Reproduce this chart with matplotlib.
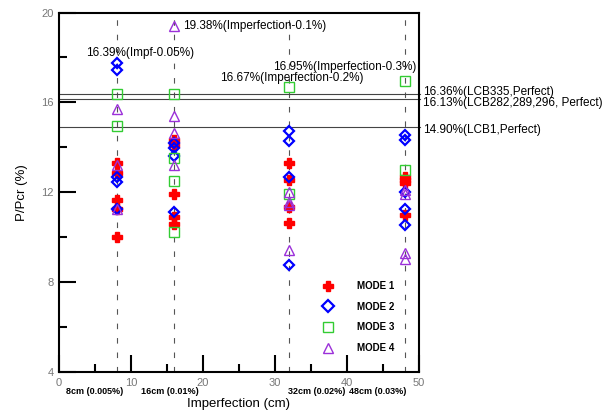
import matplotlib
matplotlib.use("Agg")
import matplotlib.pyplot as plt
from matplotlib.ticker import MultipleLocator

#
# Les données : imperfections (cm) et valeurs P/Pcr (%) de chaque mode, colonne par colonne.
#
imperfections = [8, 16, 32, 48]
etiquettes_x = ["8cm (0.005%)", "16cm (0.01%)", "32cm (0.02%)", "48cm (0.03%)"]
position_etiquettes = [5.0, 15.4, 35.8, 44.3]

mode1 = [[13.3, 12.85, 11.64, 11.25, 10.0],
         [14.31, 14.09, 11.9, 10.88, 10.6],
         [13.32, 12.53, 11.35, 10.64],
         [12.68, 12.53, 12.39, 10.98]]
mode2 = [[17.76, 17.42, 12.68, 12.46, 11.24],
         [14.18, 13.96, 13.6, 11.12],
         [14.72, 14.27, 12.68, 8.76],
         [14.53, 14.31, 12.01, 11.24, 10.53]]
mode3 = [[16.36, 14.93],
         [16.36, 13.52, 12.5, 10.21],
         [16.67, 11.94],
         [16.95, 13.0]]
mode4 = [[15.69, 13.2, 11.24],
         [19.38, 15.38, 14.62, 13.2],
         [12.01, 11.57, 11.42, 9.45],
         [12.09, 11.91, 9.28, 9.05]]

#
# Les valeurs parfaites (lignes horizontales) et leurs étiquettes.
#
parfaits = [16.36, 16.13, 14.90]
etiquettes_parfaits = ["16.36%(LCB335,Perfect)", "16.13%(LCB282,289,296, Perfect)", "14.90%(LCB1,Perfect)"]
y_etiquettes_parfaits = [16.47, 15.96, 14.76]

#
# Les annotations des valeurs maximales.
#
annotations = ["16.39%(Impf-0.05%)", "19.38%(Imperfection-0.1%)",
               "16.95%(Imperfection-0.3%)", "16.67%(Imperfection-0.2%)"]
pos_annotations = [(3.75, 18.22), (17.2, 19.42), (29.7, 17.57), (22.4, 17.07)]

plt.rcParams["font.family"] = ["Liberation Sans", "DejaVu Sans"]

fig = plt.figure(figsize=(6.13, 4.13), dpi=100)
ax = fig.add_axes([0.0962, 0.0993, 0.5873, 0.8704])

# Lignes verticales pointillées à chaque imperfection
for x in imperfections:
    ax.axvline(x, color="#555555", lw=0.8, dashes=(5, 8), zorder=1)

# Lignes horizontales des cas parfaits
for v, txt, yt in zip(parfaits, etiquettes_parfaits, y_etiquettes_parfaits):
    ax.plot([0, 50.2], [v, v], color="#444444", lw=0.8, clip_on=False, zorder=1)
    ax.text(50.55, yt, txt, fontsize=8.5, va="center", ha="left", clip_on=False)

#
# Les points de chaque mode.
#
styles = [
    (mode1, dict(marker="P", color="#ff0000", ms=6.5, ls="none", mec="#ff0000"), "MODE 1"),
    (mode2, dict(marker="D", color="#0000ff", ms=4.8, ls="none", mfc="none", mew=1.6), "MODE 2"),
    (mode3, dict(marker="s", color="#33cc33", ms=6.5, ls="none", mfc="none", mew=1.0), "MODE 3"),
    (mode4, dict(marker="^", color="#9b30d9", ms=6.5, ls="none", mfc="none", mew=1.0), "MODE 4"),
]
for donnees, style, nom in styles:
    xs = []
    ys = []
    for x, col in zip(imperfections, donnees):
        xs += [x] * len(col)
        ys += col
    ax.plot(xs, ys, label=nom, zorder=3, **style)

for txt, (x, y) in zip(annotations, pos_annotations):
    ax.text(x, y, txt, fontsize=8.5, va="center", ha="left")

# Étiquettes personnalisées sous l'axe des x
for txt, x in zip(etiquettes_x, position_etiquettes):
    ax.text(x, -0.055, txt, transform=ax.get_xaxis_transform(), fontsize=6.5,
            fontweight="bold", ha="center", va="center")

ax.set_xlim(0, 50)
ax.set_ylim(4, 20)
ax.xaxis.set_major_locator(MultipleLocator(10))
ax.xaxis.set_minor_locator(MultipleLocator(5))
ax.yaxis.set_major_locator(MultipleLocator(4))
ax.yaxis.set_minor_locator(MultipleLocator(2))
ax.tick_params(which="both", direction="in", width=1.5, colors="black",
               labelcolor="#777777", labelsize=8, top=False, right=False)
ax.tick_params(which="major", length=12, pad=4)
ax.tick_params(which="minor", length=6)
for s in ax.spines.values():
    s.set_linewidth(1.5)

ax.set_xlabel("Imperfection (cm)", fontsize=9.5, labelpad=7.5)
ax.set_ylabel("P/Pcr (%)", fontsize=9.5, labelpad=9)

ax.legend(loc="center left", bbox_to_anchor=(0.733, 0.153), frameon=False,
          prop=dict(size=7, weight="bold"), markerscale=1.2, handlelength=1.0,
          handletextpad=2.5, labelspacing=1.1, borderpad=0, borderaxespad=0)

fig.savefig("out.png", dpi=100)
